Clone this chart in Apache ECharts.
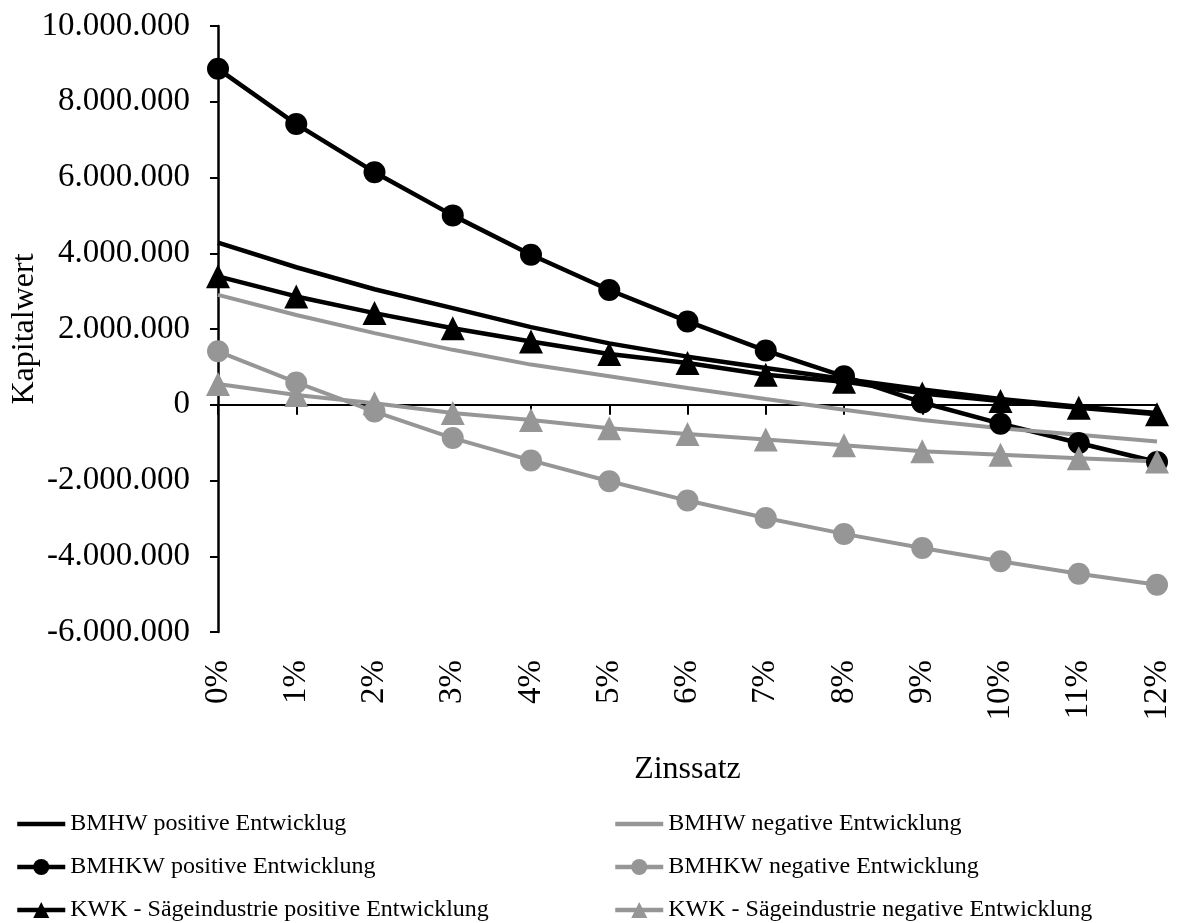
<!DOCTYPE html>
<html>
<head>
<meta charset="utf-8">
<script src="https://cdn.jsdelivr.net/npm/echarts@6/dist/echarts.min.js"></script>
<style>
html,body{margin:0;padding:0;background:#fff;}
#chart{width:1181px;height:923px;}
</style>
</head>
<body>
<div id="chart"></div>
<script>
const categories = ['0%','1%','2%','3%','4%','5%','6%','7%','8%','9%','10%','11%','12%'];
const seriesNames = [
  'BMHW positive Entwicklug',
  'BMHKW positive Entwicklung',
  'KWK - Sägeindustrie positive Entwicklung',
  'BMHW negative Entwicklung',
  'BMHKW negative Entwicklung',
  'KWK - Sägeindustrie negative Entwicklung'
];
const bmhwPos  = [4280000, 3630000, 3050000, 2550000, 2050000, 1620000, 1270000, 970000, 680000, 400000, 150000, -50000, -220000];
const bmhkwPos = [8870000, 7410000, 6140000, 5000000, 3960000, 3030000, 2200000, 1430000, 750000, 60000, -500000, -1010000, -1510000];
const kwkPos   = [3390000, 2860000, 2420000, 2020000, 1670000, 1340000, 1100000, 790000, 610000, 300000, 100000, -80000, -250000];
const bmhwNeg  = [2900000, 2370000, 1890000, 1450000, 1060000, 750000, 440000, 150000, -130000, -400000, -620000, -790000, -970000];
const bmhkwNeg = [1410000, 590000, -180000, -880000, -1470000, -2020000, -2530000, -2990000, -3410000, -3780000, -4130000, -4460000, -4750000];
const kwkNeg   = [550000, 260000, 40000, -220000, -400000, -620000, -770000, -920000, -1070000, -1230000, -1320000, -1410000, -1500000];
const yTicks = {min: -6000000, max: 10000000, interval: 2000000};

const BLACK = '#000000';
const GRAY = '#969696';
const FONT = '"Liberation Serif", "Times New Roman", serif';

function fmt(v){ return String(v).replace(/\B(?=(\d{3})+(?!\d))/g, '.'); }

function mk(name, data, color, symbol, width){
  return {
    name: name,
    type: 'line',
    data: data,
    xAxisIndex: 0,
    yAxisIndex: 0,
    symbol: symbol || 'none',
    showSymbol: !!symbol,
    symbolSize: symbol === 'triangle' ? 24 : 22,
    smooth: false,
    lineStyle: {color: color, width: width},
    itemStyle: {color: color, borderWidth: 0},
    emphasis: {disabled: true},
    animation: false,
    z: 2
  };
}

const lineOnly = [true, false, false, true, false, false];
const legendPos = [
  [15, 812], [15, 855], [15, 898],
  [613, 812], [613, 855], [613, 898]
];
const legends = seriesNames.map(function(n, i){
  const item = lineOnly[i] ? {name: n, itemStyle: {opacity: 0, borderWidth: 0}} : {name: n};
  return {
    data: [item],
    orient: 'horizontal',
    left: legendPos[i][0], top: legendPos[i][1],
    itemWidth: 48, itemHeight: 20,
    textStyle: {fontFamily: FONT, fontSize: 24, color: '#000'},
    lineStyle: {width: 4.5},
    selectedMode: false,
    padding: 0
  };
});

const chart = echarts.init(document.getElementById('chart'), null, {renderer: 'canvas'});
chart.setOption({
  backgroundColor: '#ffffff',
  animation: false,
  grid: {left: 218, right: 24, top: 26, bottom: 291, containLabel: false, outerBoundsMode: 'none'},
  legend: legends,
  xAxis: [
    {
      type: 'category',
      data: categories,
      boundaryGap: false,
      position: 'bottom',
      axisLine: {show: false, onZero: false},
      axisTick: {show: false},
      axisLabel: {rotate: 90, interval: 0, margin: 28, fontFamily: FONT, fontSize: 33, color: '#000'},
      splitLine: {show: false},
      name: 'Zinssatz',
      nameLocation: 'middle',
      nameGap: 122,
      nameMoveOverlap: false,
      nameTextStyle: {fontFamily: FONT, fontSize: 32, color: '#000'}
    },
    {
      type: 'category',
      data: categories,
      boundaryGap: false,
      position: 'bottom',
      axisLine: {show: true, onZero: true, lineStyle: {color: '#000', width: 2}},
      axisTick: {show: true, inside: false, length: 10, interval: 0, lineStyle: {color: '#000', width: 2}},
      axisLabel: {show: false},
      splitLine: {show: false}
    }
  ],
  yAxis: {
    type: 'value',
    min: yTicks.min, max: yTicks.max, interval: yTicks.interval,
    axisLine: {show: true, onZero: false, lineStyle: {color: '#000', width: 2.5}},
    axisTick: {show: true, inside: false, length: 8, lineStyle: {color: '#000', width: 2}},
    splitLine: {show: false},
    axisLabel: {formatter: fmt, margin: 28, fontFamily: FONT, fontSize: 33, color: '#000'},
    name: 'Kapitalwert',
    nameLocation: 'middle',
    nameGap: 177,
    nameMoveOverlap: false,
    nameTextStyle: {fontFamily: FONT, fontSize: 32, color: '#000'}
  },
  series: [
    mk(seriesNames[0], bmhwPos, BLACK, null, 4.5),
    mk(seriesNames[1], bmhkwPos, BLACK, 'circle', 4.5),
    mk(seriesNames[2], kwkPos, BLACK, 'triangle', 4.5),
    mk(seriesNames[3], bmhwNeg, GRAY, null, 4),
    mk(seriesNames[4], bmhkwNeg, GRAY, 'circle', 4),
    mk(seriesNames[5], kwkNeg, GRAY, 'triangle', 4)
  ]
});
</script>
</body>
</html>
